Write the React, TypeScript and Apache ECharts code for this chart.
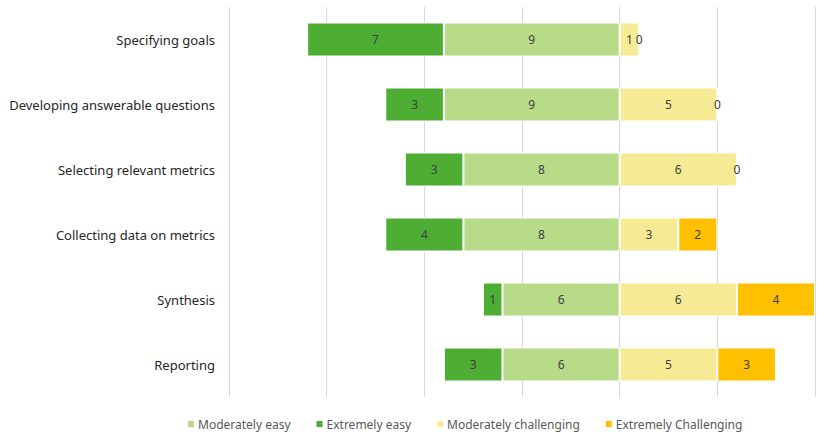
import React, { useEffect, useRef } from "react";
import * as echarts from "echarts";

const categories = [
  "Specifying goals",
  "Developing answerable questions",
  "Selecting relevant metrics",
  "Collecting data on metrics",
  "Synthesis",
  "Reporting",
];
const moderatelyEasy = [9, 9, 8, 8, 6, 6];
const extremelyEasy = [7, 3, 3, 4, 1, 3];
const moderatelyChallenging = [1, 5, 6, 3, 6, 5];
const extremelyChallenging = [0, 0, 0, 2, 4, 3];

export default function App() {
  const ref = useRef<HTMLDivElement>(null);
  useEffect(() => {
    if (!ref.current) return;
    const chart = echarts.init(ref.current, null, { renderer: "svg" });
    const label = {
      show: true,
      position: "inside" as const,
      color: "#404040",
      fontSize: 12,
      fontFamily: "Noto Sans",
      formatter: (p: any) => String(Math.abs(p.value)),
    };
    const mk = (name: string, data: number[], color: string, neg: boolean) => ({
      name,
      type: "bar",
      stack: "total",
      barWidth: 34,
      data: data.map((v) => (neg ? -v : v)),
      itemStyle: { color, borderColor: "#ffffff", borderWidth: 1 },
      label,
    });
    chart.setOption({
      animation: false,
      grid: { left: 229, right: 6, top: 7, bottom: 43, containLabel: false, outerBoundsMode: "none" },
      legend: {
        left: 181,
        top: 413,
        icon: "rect",
        itemWidth: 8,
        itemHeight: 8,
        itemGap: 24,
        textStyle: { color: "#595959", fontSize: 12, fontFamily: "Noto Sans", padding: [0, 0, 0, -2] },
        data: ["Moderately easy", "Extremely easy", "Moderately challenging", "Extremely Challenging"],
      },
      xAxis: {
        type: "value",
        min: -20,
        max: 10,
        interval: 5,
        axisLabel: { show: false },
        axisLine: { show: false },
        axisTick: { show: false },
        splitLine: { lineStyle: { color: "#d9d9d9", width: 1 } },
      },
      yAxis: {
        type: "category",
        data: categories,
        inverse: true,
        axisLine: { show: false },
        axisTick: { show: false },
        axisLabel: { color: "#262626", fontSize: 13, fontFamily: "Noto Sans", margin: 14 },
      },
      series: [
        mk("Moderately easy", moderatelyEasy, "#b7db88", true),
        mk("Extremely easy", extremelyEasy, "#4ead33", true),
        mk("Moderately challenging", moderatelyChallenging, "#f7ea94", false),
        mk("Extremely Challenging", extremelyChallenging, "#ffc000", false),
      ],
    });
    return () => chart.dispose();
  }, []);
  return (
    <div
      ref={ref}
      style={{ position: "fixed", left: 0, top: 0, width: 821, height: 440, background: "#ffffff" }}
    />
  );
}
